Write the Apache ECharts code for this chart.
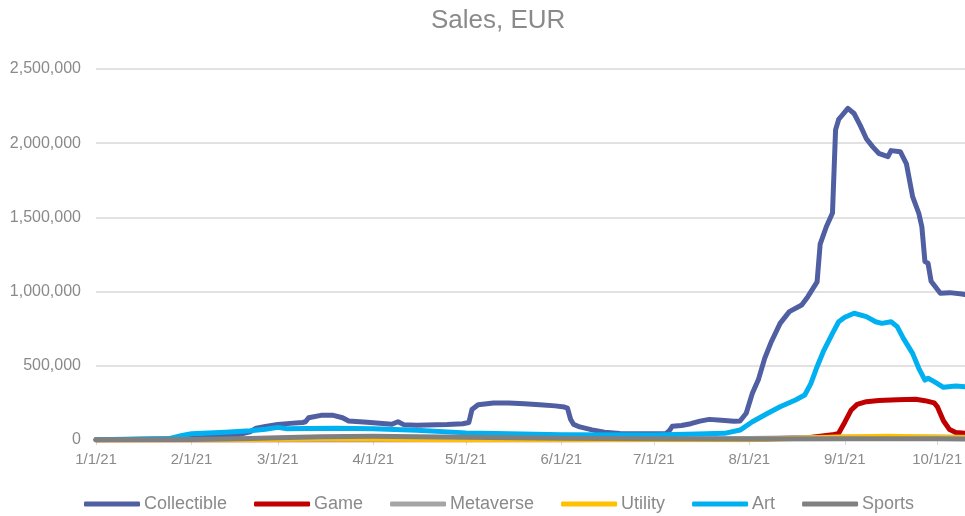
<!DOCTYPE html>
<html>
<head>
<meta charset="utf-8">
<script src="https://cdn.jsdelivr.net/npm/echarts@6/dist/echarts.min.js"></script>
<style>
html,body{margin:0;padding:0;background:#fff;}
#chart{width:965px;height:516px;}
</style>
</head>
<body>
<div id="chart"></div>
<script>
// ---- DATA ----
const titleText = 'Sales, EUR';
const seriesNames = ['Collectible', 'Game', 'Metaverse', 'Utility', 'Art', 'Sports'];
const tickDates = ['2021-01-01','2021-02-01','2021-03-01','2021-04-01','2021-05-01','2021-06-01','2021-07-01','2021-08-01','2021-09-01','2021-10-01'];
const tickLabels = ['1/1/21','2/1/21','3/1/21','4/1/21','5/1/21','6/1/21','7/1/21','8/1/21','9/1/21','10/1/21'];
const axisStart = '2021-01-01';
const axisEnd = '2021-10-10';
const yTicks = [0, 500000, 1000000, 1500000, 2000000, 2500000];

const collectible = [
  ['2021-01-01',3000],['2021-01-11',4000],['2021-01-21',6000],['2021-02-01',12000],['2021-02-10',22000],
  ['2021-02-16',35000],['2021-02-20',55000],['2021-02-22',80000],['2021-02-25',92000],['2021-03-01',105000],
  ['2021-03-05',112000],['2021-03-09',118000],['2021-03-10',123000],['2021-03-11',150000],['2021-03-15',166000],
  ['2021-03-19',166000],['2021-03-22',150000],['2021-03-24',128000],['2021-03-30',119000],['2021-04-07',106000],
  ['2021-04-09',123000],['2021-04-11',102000],['2021-04-15',100000],['2021-04-25',104000],['2021-04-30',110000],
  ['2021-05-02',118000],['2021-05-03',205000],['2021-05-05',238000],['2021-05-10',250000],['2021-05-15',249000],
  ['2021-05-20',244000],['2021-05-25',238000],['2021-05-30',230000],['2021-06-02',222000],['2021-06-03',215000],
  ['2021-06-04',140000],['2021-06-05',105000],['2021-06-07',88000],['2021-06-11',68000],['2021-06-15',52000],
  ['2021-06-20',44000],['2021-06-30',42000],['2021-07-05',44000],['2021-07-06',62000],['2021-07-07',92000],
  ['2021-07-10',98000],['2021-07-13',110000],['2021-07-16',127000],['2021-07-19',139000],['2021-07-23',133000],
  ['2021-07-27',127000],['2021-07-29',128000],['2021-07-31',180000],['2021-08-02',315000],['2021-08-04',410000],
  ['2021-08-06',550000],['2021-08-08',655000],['2021-08-11',786000],['2021-08-14',865000],['2021-08-18',910000],
  ['2021-08-20',966000],['2021-08-23',1065000],['2021-08-24',1320000],['2021-08-26',1437000],['2021-08-28',1530000],
  ['2021-08-29',2090000],['2021-08-30',2160000],['2021-08-31',2185000],['2021-09-02',2235000],['2021-09-04',2200000],
  ['2021-09-06',2120000],['2021-09-08',2030000],['2021-09-10',1977000],['2021-09-12',1932000],['2021-09-15',1909000],
  ['2021-09-16',1950000],['2021-09-19',1943000],['2021-09-21',1860000],['2021-09-23',1640000],['2021-09-25',1528000],
  ['2021-09-26',1437000],['2021-09-27',1202000],['2021-09-28',1191000],['2021-09-29',1070000],['2021-10-02',989000],
  ['2021-10-05',993000],['2021-10-09',984000],['2021-10-10',980000]
];
const game = [
  ['2021-01-01',0],['2021-06-01',1000],['2021-08-01',5000],['2021-08-20',15000],['2021-08-28',35000],
  ['2021-08-30',45000],['2021-09-01',120000],['2021-09-03',200000],['2021-09-05',240000],['2021-09-08',258000],
  ['2021-09-12',266000],['2021-09-18',272000],['2021-09-24',274000],['2021-09-27',265000],['2021-09-30',250000],
  ['2021-10-01',225000],['2021-10-03',130000],['2021-10-05',70000],['2021-10-07',50000],['2021-10-10',45000]
];
const metaverse = [
  ['2021-01-01',1000],['2021-03-01',4000],['2021-06-01',5000],['2021-08-01',10000],['2021-09-01',20000],
  ['2021-10-01',20000],['2021-10-10',18000]
];
const utility = [
  ['2021-01-01',0],['2021-02-20',2000],['2021-03-01',5000],['2021-03-15',8000],['2021-04-01',6000],
  ['2021-04-15',3000],['2021-05-01',2000],['2021-06-15',1000],['2021-08-01',2000],['2021-09-01',20000],
  ['2021-09-15',25000],['2021-10-01',18000],['2021-10-10',15000]
];
const art = [
  ['2021-01-01',2000],['2021-01-20',8000],['2021-01-25',10000],['2021-01-29',30000],['2021-02-01',42000],
  ['2021-02-12',52000],['2021-02-20',62000],['2021-02-25',72000],['2021-03-01',85000],['2021-03-04',76000],
  ['2021-03-10',78000],['2021-03-20',80000],['2021-04-01',75000],['2021-04-15',65000],['2021-05-01',48000],
  ['2021-05-15',42000],['2021-06-01',35000],['2021-07-01',33000],['2021-07-15',40000],['2021-07-24',45000],
  ['2021-07-29',67000],['2021-08-02',123000],['2021-08-07',180000],['2021-08-11',224000],['2021-08-16',270000],
  ['2021-08-19',303000],['2021-08-21',382000],['2021-08-23',494000],['2021-08-25',595000],['2021-08-28',719000],
  ['2021-08-30',797000],['2021-09-01',827000],['2021-09-04',854000],['2021-09-08',831000],['2021-09-11',797000],
  ['2021-09-13',786000],['2021-09-16',797000],['2021-09-18',764000],['2021-09-20',685000],['2021-09-23',584000],
  ['2021-09-25',483000],['2021-09-27',404000],['2021-09-28',416000],['2021-09-30',393000],['2021-10-03',355000],
  ['2021-10-07',364000],['2021-10-10',359000]
];
const sports = [
  ['2021-01-01',2000],['2021-02-01',4000],['2021-02-20',10000],['2021-03-01',15000],['2021-03-15',22000],
  ['2021-04-01',25000],['2021-04-15',22000],['2021-05-01',18000],['2021-06-01',12000],['2021-07-01',8000],
  ['2021-08-01',6000],['2021-09-01',8000],['2021-10-01',8000],['2021-10-10',7000]
];
const seriesData = [collectible, game, metaverse, utility, art, sports];
const colors = ['#505EA2', '#C00000', '#A5A5A5', '#FFC000', '#00B0F0', '#808080'];

// ---- HELPERS ----
function dayIndex(s) {
  const p = s.split('-').map(Number);
  return Math.round((Date.UTC(p[0], p[1] - 1, p[2]) - Date.UTC(2021, 0, 1)) / 86400000);
}
const tickDays = tickDates.map(dayIndex);
const labelByDay = {};
tickDays.forEach((d, i) => { labelByDay[d] = tickLabels[i]; });
function fmt(v) { return String(v).replace(/\B(?=(\d{3})+(?!\d))/g, ','); }

const textColor = '#8A8A8A';
const font = "'Liberation Sans', Arial, sans-serif";

const chart = echarts.init(document.getElementById('chart'), null, { renderer: 'canvas' });
chart.setOption({
  animation: false,
  backgroundColor: '#fff',
  textStyle: { fontFamily: font },
  title: {
    text: titleText,
    left: 426,
    top: 3,
    textStyle: { color: textColor, fontSize: 26, fontWeight: 'normal', fontFamily: font }
  },
  legend: {
    left: 79,
    top: 490,
    icon: 'roundRect',
    itemWidth: 56,
    itemHeight: 5,
    itemGap: 27,
    textStyle: { color: textColor, fontSize: 18, fontFamily: font, padding: [0, 0, 0, -1] },
    data: seriesNames
  },
  grid: {
    left: 96, right: 0, top: 69, bottom: 76,
    containLabel: false,
    outerBoundsMode: 'none'
  },
  xAxis: {
    type: 'value',
    min: dayIndex(axisStart),
    max: dayIndex(axisEnd),
    splitLine: { show: false },
    axisLine: { show: true, lineStyle: { color: '#D9D9D9', width: 1 } },
    axisTick: { show: true, customValues: tickDays, length: 5, lineStyle: { color: '#D9D9D9' } },
    axisLabel: {
      customValues: tickDays,
      formatter: v => labelByDay[v] || '',
      color: textColor, fontSize: 15, fontFamily: font, margin: 12
    }
  },
  yAxis: {
    type: 'value',
    min: yTicks[0],
    max: yTicks[yTicks.length - 1],
    interval: yTicks[1] - yTicks[0],
    axisLine: { show: false },
    axisTick: { show: false },
    splitLine: { lineStyle: { color: '#D9D9D9', width: 1.5 } },
    axisLabel: { formatter: v => fmt(v), color: textColor, fontSize: 16, fontFamily: font, margin: 15 }
  },
  series: seriesNames.map((name, i) => ({
    name: name,
    type: 'line',
    showSymbol: false,
    symbol: 'none',
    color: colors[i],
    lineStyle: { color: colors[i], width: 5, cap: 'round', join: 'round' },
    data: seriesData[i].map(d => [dayIndex(d[0]), d[1]])
  }))
});
</script>
</body>
</html>
